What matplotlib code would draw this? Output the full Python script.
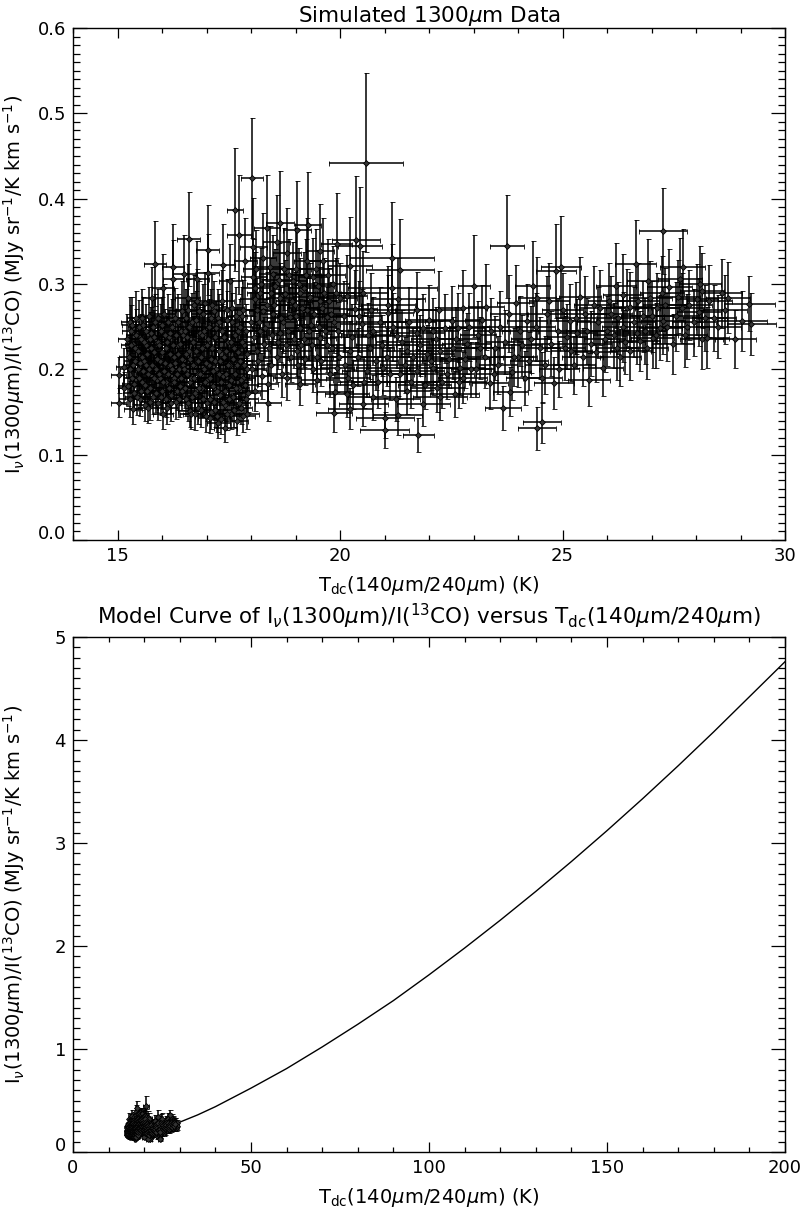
import numpy as np
import matplotlib.pyplot as plt
from matplotlib.ticker import MultipleLocator
from matplotlib.transforms import ScaledTranslation

# rows: T_dc (K), ratio, T error, ratio error
cluster_a = [
    (15.03, 0.193, 0.17, 0.021), (15.03, 0.161, 0.17, 0.017), (15.15, 0.178, 0.15, 0.019),
    (15.15, 0.203, 0.18, 0.022), (15.28, 0.255, 0.20, 0.030), (15.35, 0.230, 0.18, 0.027),
    (15.35, 0.153, 0.20, 0.017), (15.25, 0.215, 0.22, 0.025), (15.30, 0.245, 0.20, 0.030),
    (15.32, 0.190, 0.18, 0.022), (15.38, 0.172, 0.25, 0.020), (15.40, 0.225, 0.22, 0.028),
    (15.42, 0.260, 0.20, 0.032), (15.45, 0.200, 0.24, 0.024), (15.50, 0.165, 0.22, 0.020),
    (15.52, 0.235, 0.26, 0.030), (15.55, 0.185, 0.20, 0.022), (15.58, 0.252, 0.24, 0.033),
    (15.60, 0.210, 0.22, 0.026), (15.62, 0.158, 0.25, 0.019), (15.65, 0.228, 0.20, 0.029),
    (15.68, 0.195, 0.26, 0.024), (15.69, 0.155, 0.22, 0.018), (15.70, 0.262, 0.24, 0.035),
    (15.72, 0.178, 0.20, 0.021), (15.75, 0.242, 0.26, 0.031), (15.77, 0.284, 0.22, 0.036),
    (15.78, 0.205, 0.24, 0.025), (15.80, 0.168, 0.22, 0.020), (15.83, 0.220, 0.26, 0.028),
    (15.84, 0.324, 0.24, 0.050), (15.85, 0.255, 0.22, 0.033), (15.88, 0.188, 0.25, 0.023),
    (15.90, 0.232, 0.22, 0.030), (15.92, 0.160, 0.24, 0.019), (15.95, 0.210, 0.26, 0.026),
    (15.98, 0.245, 0.22, 0.032), (16.00, 0.175, 0.25, 0.021), (16.02, 0.295, 0.24, 0.040),
    (16.02, 0.148, 0.22, 0.018), (16.04, 0.198, 0.26, 0.024), (16.05, 0.265, 0.24, 0.035),
    (16.08, 0.225, 0.22, 0.028), (16.10, 0.185, 0.26, 0.022), (16.12, 0.155, 0.24, 0.019),
    (16.15, 0.238, 0.22, 0.031), (16.18, 0.205, 0.26, 0.025), (16.20, 0.170, 0.24, 0.021),
    (16.22, 0.250, 0.26, 0.033), (16.25, 0.320, 0.24, 0.050), (16.25, 0.306, 0.22, 0.045),
    (16.26, 0.215, 0.24, 0.027), (16.28, 0.190, 0.26, 0.023), (16.30, 0.260, 0.22, 0.035),
    (16.32, 0.162, 0.26, 0.020), (16.35, 0.228, 0.24, 0.029), (16.38, 0.200, 0.22, 0.025),
    (16.40, 0.180, 0.26, 0.022), (16.42, 0.245, 0.24, 0.032), (16.45, 0.212, 0.26, 0.026),
    (15.35, 0.205, 0.22, 0.025), (15.48, 0.250, 0.24, 0.031), (15.66, 0.175, 0.22, 0.021),
    (15.86, 0.200, 0.26, 0.024), (16.06, 0.240, 0.24, 0.031), (16.27, 0.185, 0.22, 0.022),
    (15.56, 0.215, 0.26, 0.026), (15.76, 0.225, 0.24, 0.028), (15.96, 0.190, 0.22, 0.023),
]
cluster_a_more = [
    (15.22, 0.235, 0.22, 0.030), (15.24, 0.180, 0.24, 0.023), (15.27, 0.200, 0.22, 0.026),
    (15.29, 0.165, 0.26, 0.021), (15.31, 0.228, 0.24, 0.030), (15.33, 0.252, 0.22, 0.033),
    (15.36, 0.183, 0.26, 0.024), (15.39, 0.210, 0.24, 0.027), (15.41, 0.240, 0.22, 0.031),
    (15.43, 0.168, 0.26, 0.022), (15.46, 0.222, 0.24, 0.029), (15.49, 0.190, 0.22, 0.025),
    (15.51, 0.208, 0.26, 0.027), (15.53, 0.175, 0.24, 0.023), (15.54, 0.260, 0.22, 0.034),
    (15.57, 0.198, 0.26, 0.026), (15.59, 0.232, 0.24, 0.030), (15.61, 0.182, 0.22, 0.024),
    (15.63, 0.245, 0.26, 0.032), (15.64, 0.205, 0.24, 0.027), (15.67, 0.218, 0.22, 0.028),
    (15.71, 0.200, 0.26, 0.026), (15.73, 0.236, 0.24, 0.031), (15.74, 0.162, 0.22, 0.021),
    (15.79, 0.250, 0.26, 0.033), (15.81, 0.190, 0.24, 0.025), (15.82, 0.238, 0.22, 0.031),
    (15.87, 0.172, 0.26, 0.022), (15.89, 0.212, 0.24, 0.028), (15.91, 0.260, 0.22, 0.034),
    (15.93, 0.195, 0.26, 0.025), (15.94, 0.228, 0.24, 0.030), (15.97, 0.168, 0.22, 0.022),
    (15.99, 0.220, 0.26, 0.029), (16.01, 0.252, 0.24, 0.033), (16.03, 0.185, 0.22, 0.024),
    (16.07, 0.208, 0.26, 0.027), (16.09, 0.165, 0.24, 0.021), (16.11, 0.232, 0.22, 0.030),
    (16.13, 0.255, 0.26, 0.033), (16.14, 0.195, 0.24, 0.025), (16.16, 0.178, 0.22, 0.023),
    (16.17, 0.218, 0.26, 0.028), (16.19, 0.242, 0.24, 0.031), (16.21, 0.160, 0.22, 0.021),
    (16.23, 0.200, 0.26, 0.026), (16.24, 0.228, 0.24, 0.030), (16.29, 0.208, 0.22, 0.027),
    (16.31, 0.240, 0.26, 0.031), (16.33, 0.175, 0.24, 0.023), (16.34, 0.195, 0.22, 0.025),
    (16.36, 0.255, 0.26, 0.033), (16.37, 0.218, 0.24, 0.028), (16.39, 0.165, 0.22, 0.021),
    (16.41, 0.230, 0.26, 0.030), (16.43, 0.190, 0.24, 0.025), (16.44, 0.268, 0.22, 0.035),
    (16.46, 0.175, 0.26, 0.023), (16.47, 0.240, 0.24, 0.031), (16.48, 0.205, 0.22, 0.027),
]

cluster_b = [
    (16.49, 0.312, 0.25, 0.045), (16.50, 0.200, 0.26, 0.025), (16.52, 0.245, 0.28, 0.032),
    (16.55, 0.165, 0.24, 0.020), (16.58, 0.270, 0.26, 0.036), (16.58, 0.284, 0.28, 0.040),
    (16.60, 0.353, 0.26, 0.055), (16.60, 0.222, 0.24, 0.028), (16.62, 0.185, 0.28, 0.023),
    (16.63, 0.151, 0.26, 0.018), (16.65, 0.148, 0.24, 0.018), (16.66, 0.190, 0.26, 0.023),
    (16.68, 0.255, 0.28, 0.034), (16.70, 0.205, 0.24, 0.025), (16.72, 0.232, 0.26, 0.030),
    (16.75, 0.172, 0.28, 0.021), (16.78, 0.280, 0.24, 0.038), (16.79, 0.306, 0.26, 0.044),
    (16.80, 0.195, 0.28, 0.024), (16.82, 0.155, 0.24, 0.019), (16.85, 0.242, 0.26, 0.031),
    (16.88, 0.215, 0.28, 0.027), (16.90, 0.178, 0.24, 0.022), (16.92, 0.265, 0.26, 0.035),
    (16.95, 0.200, 0.28, 0.025), (16.98, 0.145, 0.24, 0.018), (17.00, 0.228, 0.26, 0.029),
    (17.02, 0.188, 0.28, 0.023), (17.03, 0.340, 0.26, 0.053), (17.03, 0.313, 0.24, 0.046),
    (17.05, 0.250, 0.26, 0.033), (17.06, 0.205, 0.24, 0.025), (17.08, 0.165, 0.28, 0.020),
    (17.08, 0.143, 0.26, 0.018), (17.10, 0.212, 0.24, 0.027), (17.12, 0.275, 0.26, 0.037),
    (17.15, 0.180, 0.28, 0.022), (17.18, 0.238, 0.24, 0.031), (17.20, 0.152, 0.26, 0.019),
    (17.22, 0.200, 0.28, 0.025), (17.25, 0.260, 0.24, 0.034), (17.26, 0.137, 0.26, 0.017),
    (17.28, 0.222, 0.28, 0.028), (17.30, 0.170, 0.24, 0.021), (17.32, 0.142, 0.26, 0.018),
    (17.35, 0.245, 0.28, 0.032), (17.37, 0.322, 0.26, 0.048), (17.38, 0.192, 0.24, 0.024),
    (17.40, 0.215, 0.26, 0.027), (17.42, 0.158, 0.28, 0.019), (17.42, 0.131, 0.26, 0.016),
    (17.45, 0.270, 0.24, 0.036), (17.48, 0.232, 0.26, 0.030), (17.50, 0.182, 0.28, 0.022),
    (17.52, 0.205, 0.24, 0.025), (17.53, 0.304, 0.26, 0.043), (17.55, 0.148, 0.28, 0.018),
    (17.58, 0.255, 0.24, 0.034), (17.60, 0.168, 0.26, 0.021), (17.62, 0.225, 0.28, 0.029),
    (17.64, 0.387, 0.17, 0.072), (17.65, 0.195, 0.24, 0.024), (17.68, 0.140, 0.26, 0.017),
    (17.70, 0.245, 0.28, 0.032), (17.72, 0.178, 0.24, 0.022), (17.73, 0.358, 0.26, 0.070),
    (17.75, 0.210, 0.28, 0.026), (17.78, 0.155, 0.24, 0.019), (17.80, 0.262, 0.26, 0.035),
    (17.82, 0.190, 0.28, 0.023), (17.85, 0.228, 0.24, 0.029), (17.87, 0.327, 0.26, 0.050),
    (17.88, 0.165, 0.28, 0.020), (17.90, 0.200, 0.24, 0.025), (17.92, 0.148, 0.26, 0.018),
]
cluster_b_more = [
    (16.51, 0.178, 0.26, 0.023), (16.53, 0.218, 0.24, 0.028), (16.54, 0.260, 0.28, 0.034),
    (16.56, 0.195, 0.26, 0.025), (16.57, 0.238, 0.24, 0.031), (16.59, 0.160, 0.28, 0.021),
    (16.61, 0.250, 0.26, 0.033), (16.64, 0.212, 0.24, 0.028), (16.67, 0.168, 0.28, 0.022),
    (16.69, 0.232, 0.26, 0.030), (16.71, 0.275, 0.24, 0.036), (16.73, 0.190, 0.28, 0.025),
    (16.74, 0.148, 0.26, 0.019), (16.76, 0.222, 0.24, 0.029), (16.77, 0.258, 0.28, 0.034),
    (16.81, 0.210, 0.26, 0.027), (16.83, 0.268, 0.24, 0.035), (16.84, 0.178, 0.28, 0.023),
    (16.86, 0.195, 0.26, 0.025), (16.87, 0.152, 0.24, 0.020), (16.89, 0.240, 0.28, 0.031),
    (16.91, 0.225, 0.26, 0.029), (16.93, 0.165, 0.24, 0.021), (16.94, 0.245, 0.28, 0.032),
    (16.96, 0.185, 0.26, 0.024), (16.97, 0.278, 0.24, 0.036), (16.99, 0.208, 0.28, 0.027),
    (17.01, 0.160, 0.26, 0.021), (17.04, 0.235, 0.24, 0.031), (17.07, 0.190, 0.28, 0.025),
    (17.09, 0.260, 0.26, 0.034), (17.11, 0.150, 0.24, 0.020), (17.13, 0.225, 0.28, 0.029),
    (17.14, 0.198, 0.26, 0.026), (17.16, 0.268, 0.24, 0.035), (17.17, 0.162, 0.28, 0.021),
    (17.19, 0.210, 0.26, 0.027), (17.21, 0.248, 0.24, 0.032), (17.23, 0.175, 0.28, 0.023),
    (17.24, 0.145, 0.26, 0.019), (17.27, 0.195, 0.24, 0.025), (17.29, 0.255, 0.28, 0.033),
    (17.31, 0.210, 0.26, 0.027), (17.33, 0.185, 0.24, 0.024), (17.34, 0.280, 0.28, 0.036),
    (17.36, 0.162, 0.26, 0.021), (17.39, 0.238, 0.24, 0.031), (17.41, 0.175, 0.28, 0.023),
    (17.43, 0.222, 0.26, 0.029), (17.44, 0.195, 0.24, 0.025), (17.46, 0.148, 0.28, 0.019),
    (17.47, 0.258, 0.26, 0.034), (17.49, 0.205, 0.24, 0.027), (17.51, 0.165, 0.28, 0.021),
    (17.54, 0.232, 0.26, 0.030), (17.56, 0.188, 0.24, 0.024), (17.57, 0.272, 0.28, 0.035),
    (17.59, 0.212, 0.26, 0.028), (17.61, 0.152, 0.24, 0.020), (17.63, 0.240, 0.28, 0.031),
    (17.66, 0.178, 0.26, 0.023), (17.67, 0.262, 0.24, 0.034), (17.69, 0.205, 0.28, 0.027),
    (17.71, 0.220, 0.26, 0.029), (17.74, 0.160, 0.24, 0.021), (17.76, 0.250, 0.28, 0.033),
    (17.77, 0.188, 0.26, 0.024), (17.79, 0.232, 0.24, 0.030), (17.81, 0.145, 0.28, 0.019),
    (17.83, 0.270, 0.26, 0.035), (17.84, 0.205, 0.24, 0.027), (17.86, 0.182, 0.28, 0.024),
    (17.89, 0.245, 0.26, 0.032), (17.91, 0.218, 0.24, 0.028), (17.93, 0.172, 0.28, 0.022),
]

cluster_c = [
    (18.02, 0.424, 0.24, 0.070), (18.05, 0.343, 0.30, 0.058), (18.36, 0.366, 0.30, 0.062),
    (18.65, 0.372, 0.32, 0.060), (19.03, 0.363, 0.32, 0.058), (19.28, 0.369, 0.30, 0.062),
    (18.58, 0.349, 0.30, 0.055), (19.55, 0.339, 0.32, 0.055), (19.93, 0.347, 0.35, 0.060),
    (18.27, 0.331, 0.30, 0.052), (18.81, 0.336, 0.32, 0.053), (19.26, 0.327, 0.30, 0.050),
    (19.62, 0.327, 0.34, 0.050), (18.05, 0.308, 0.28, 0.045), (18.49, 0.312, 0.30, 0.046),
    (18.94, 0.304, 0.32, 0.045), (19.39, 0.308, 0.34, 0.046), (19.84, 0.300, 0.36, 0.044),
    (18.20, 0.289, 0.30, 0.042), (18.65, 0.284, 0.32, 0.041), (19.10, 0.289, 0.34, 0.042),
    (19.55, 0.280, 0.36, 0.040), (20.00, 0.284, 0.38, 0.041), (18.13, 0.269, 0.30, 0.038),
    (18.49, 0.265, 0.32, 0.037), (18.88, 0.261, 0.34, 0.036), (19.26, 0.269, 0.36, 0.038),
    (19.71, 0.261, 0.38, 0.036), (18.20, 0.245, 0.30, 0.034), (18.65, 0.242, 0.32, 0.033),
    (19.10, 0.249, 0.34, 0.034), (19.55, 0.237, 0.36, 0.032), (18.13, 0.222, 0.30, 0.030),
    (18.58, 0.214, 0.32, 0.029), (19.03, 0.222, 0.34, 0.030), (19.48, 0.214, 0.36, 0.029),
    (18.38, 0.183, 0.22, 0.025), (18.09, 0.175, 0.30, 0.024), (18.81, 0.190, 0.32, 0.026),
    (19.10, 0.183, 0.34, 0.025), (19.48, 0.187, 0.36, 0.026), (19.89, 0.173, 0.40, 0.024),
    (19.93, 0.202, 0.38, 0.028), (18.38, 0.161, 0.30, 0.022), (18.00, 0.255, 0.28, 0.036),
    (18.10, 0.295, 0.30, 0.042), (18.30, 0.230, 0.30, 0.031), (18.35, 0.275, 0.30, 0.039),
    (18.42, 0.320, 0.32, 0.048), (18.45, 0.205, 0.32, 0.028), (18.55, 0.298, 0.30, 0.043),
    (18.72, 0.255, 0.32, 0.036), (18.75, 0.318, 0.34, 0.048), (18.78, 0.228, 0.32, 0.031),
    (18.98, 0.275, 0.34, 0.039), (19.00, 0.318, 0.34, 0.048), (19.05, 0.205, 0.34, 0.028),
    (19.18, 0.235, 0.36, 0.032), (19.20, 0.295, 0.36, 0.042), (19.35, 0.252, 0.36, 0.035),
    (19.40, 0.200, 0.36, 0.027), (19.45, 0.318, 0.36, 0.047), (19.65, 0.290, 0.38, 0.041),
    (19.70, 0.228, 0.38, 0.031), (19.78, 0.195, 0.38, 0.027), (19.80, 0.265, 0.40, 0.037),
    (19.95, 0.245, 0.40, 0.034),
]
cluster_c_more = [
    (18.03, 0.200, 0.30, 0.028), (18.06, 0.238, 0.30, 0.033), (18.08, 0.282, 0.32, 0.039),
    (18.12, 0.318, 0.30, 0.045), (18.15, 0.210, 0.32, 0.029), (18.17, 0.255, 0.30, 0.036),
    (18.22, 0.300, 0.32, 0.042), (18.25, 0.192, 0.30, 0.027), (18.28, 0.268, 0.32, 0.038),
    (18.32, 0.248, 0.30, 0.035), (18.40, 0.225, 0.32, 0.032), (18.44, 0.290, 0.34, 0.041),
    (18.47, 0.240, 0.32, 0.034), (18.52, 0.275, 0.34, 0.039), (18.60, 0.232, 0.32, 0.032),
    (18.62, 0.305, 0.34, 0.043), (18.68, 0.260, 0.32, 0.036), (18.70, 0.195, 0.34, 0.027),
    (18.76, 0.288, 0.32, 0.040), (18.84, 0.245, 0.34, 0.034), (18.86, 0.310, 0.32, 0.043),
    (18.90, 0.215, 0.34, 0.030), (18.92, 0.280, 0.36, 0.039), (18.96, 0.235, 0.34, 0.033),
    (19.02, 0.262, 0.36, 0.037), (19.08, 0.300, 0.34, 0.042), (19.12, 0.228, 0.36, 0.032),
    (19.15, 0.272, 0.34, 0.038), (19.22, 0.212, 0.36, 0.030), (19.24, 0.310, 0.34, 0.043),
    (19.30, 0.245, 0.36, 0.034), (19.33, 0.285, 0.38, 0.040), (19.37, 0.228, 0.36, 0.032),
    (19.42, 0.265, 0.38, 0.037), (19.50, 0.298, 0.36, 0.042), (19.52, 0.250, 0.38, 0.035),
    (19.58, 0.210, 0.36, 0.029), (19.60, 0.272, 0.38, 0.038), (19.67, 0.245, 0.40, 0.034),
    (19.74, 0.310, 0.38, 0.043), (19.76, 0.280, 0.40, 0.039), (19.82, 0.225, 0.38, 0.032),
    (19.86, 0.255, 0.40, 0.036), (19.90, 0.290, 0.42, 0.041), (19.97, 0.215, 0.40, 0.030),
]

cluster_d = [
    (20.58, 0.442, 0.83, 0.105), (20.36, 0.352, 0.54, 0.075), (20.45, 0.344, 0.50, 0.070),
    (21.17, 0.331, 0.94, 0.065), (21.35, 0.316, 0.76, 0.060), (20.22, 0.321, 0.50, 0.058),
    (21.17, 0.295, 1.00, 0.052), (20.52, 0.289, 0.55, 0.050), (21.30, 0.282, 0.60, 0.048),
    (21.73, 0.269, 0.50, 0.045), (22.22, 0.270, 0.55, 0.045), (21.08, 0.275, 0.60, 0.046),
    (21.08, 0.266, 0.55, 0.044), (20.34, 0.271, 0.50, 0.045), (20.16, 0.286, 0.45, 0.048),
    (20.74, 0.245, 0.55, 0.040), (20.50, 0.253, 0.50, 0.041), (21.73, 0.243, 0.60, 0.039),
    (21.28, 0.239, 0.55, 0.038), (21.87, 0.248, 0.60, 0.040), (22.10, 0.245, 0.55, 0.039),
    (22.52, 0.257, 0.60, 0.041), (22.76, 0.272, 0.55, 0.044), (22.65, 0.249, 0.60, 0.040),
    (20.22, 0.222, 0.50, 0.035), (20.67, 0.225, 0.55, 0.036), (21.06, 0.214, 0.60, 0.034),
    (21.50, 0.222, 0.55, 0.035), (21.96, 0.218, 0.60, 0.034), (22.25, 0.222, 0.55, 0.035),
    (22.54, 0.225, 0.60, 0.036), (22.85, 0.230, 0.55, 0.036), (20.18, 0.190, 0.50, 0.030),
    (20.60, 0.198, 0.55, 0.031), (20.97, 0.202, 0.60, 0.032), (21.35, 0.195, 0.55, 0.030),
    (21.73, 0.198, 0.60, 0.031), (22.09, 0.202, 0.55, 0.032), (22.40, 0.195, 0.60, 0.030),
    (22.70, 0.202, 0.55, 0.032), (20.16, 0.171, 0.50, 0.027), (20.52, 0.159, 0.55, 0.025),
    (20.74, 0.167, 0.55, 0.026), (21.01, 0.143, 0.65, 0.023), (21.30, 0.146, 0.55, 0.023),
    (21.76, 0.123, 0.35, 0.020), (21.87, 0.159, 0.60, 0.025), (20.22, 0.154, 0.50, 0.024),
    (21.50, 0.175, 0.55, 0.027), (22.25, 0.167, 0.60, 0.026), (22.58, 0.171, 0.55, 0.027),
    (22.18, 0.178, 0.60, 0.028), (19.87, 0.149, 0.40, 0.023), (21.00, 0.129, 0.55, 0.021),
    (22.76, 0.190, 0.55, 0.030),
]
cluster_d_more = [
    (20.10, 0.262, 0.50, 0.042), (20.12, 0.205, 0.55, 0.033), (20.28, 0.238, 0.50, 0.038),
    (20.30, 0.182, 0.55, 0.029), (20.40, 0.215, 0.60, 0.034), (20.42, 0.262, 0.50, 0.042),
    (20.55, 0.185, 0.55, 0.030), (20.62, 0.240, 0.60, 0.038), (20.70, 0.270, 0.55, 0.043),
    (20.80, 0.210, 0.50, 0.034), (20.85, 0.185, 0.60, 0.030), (20.90, 0.255, 0.55, 0.041),
    (20.95, 0.228, 0.60, 0.036), (21.12, 0.195, 0.55, 0.031), (21.20, 0.250, 0.60, 0.040),
    (21.25, 0.165, 0.55, 0.026), (21.40, 0.232, 0.60, 0.037), (21.45, 0.205, 0.55, 0.033),
    (21.55, 0.255, 0.60, 0.041), (21.60, 0.185, 0.55, 0.030), (21.65, 0.215, 0.60, 0.034),
    (21.80, 0.228, 0.55, 0.036), (21.90, 0.182, 0.60, 0.029), (22.00, 0.258, 0.55, 0.041),
    (22.05, 0.210, 0.60, 0.034), (22.15, 0.235, 0.55, 0.038), (22.30, 0.185, 0.60, 0.030),
    (22.35, 0.248, 0.55, 0.040), (22.45, 0.212, 0.60, 0.034), (22.60, 0.235, 0.55, 0.038),
    (22.68, 0.185, 0.60, 0.030), (22.80, 0.212, 0.55, 0.034), (22.90, 0.250, 0.45, 0.040),
    (22.95, 0.200, 0.45, 0.032),
]

cluster_e = [
    (23.01, 0.298, 0.36, 0.060), (23.28, 0.273, 0.40, 0.050), (23.75, 0.344, 0.39, 0.060),
    (24.33, 0.298, 0.40, 0.052), (24.43, 0.284, 0.42, 0.048), (24.85, 0.315, 0.45, 0.055),
    (24.96, 0.320, 0.45, 0.060), (26.20, 0.298, 0.45, 0.050), (26.36, 0.287, 0.45, 0.048),
    (25.71, 0.275, 0.45, 0.046), (23.80, 0.265, 0.42, 0.045), (23.66, 0.155, 0.40, 0.026),
    (23.83, 0.174, 0.40, 0.029), (24.54, 0.138, 0.42, 0.024), (24.43, 0.131, 0.42, 0.025),
    (25.60, 0.188, 0.47, 0.031), (25.91, 0.202, 0.45, 0.033), (24.81, 0.184, 0.45, 0.031),
    (23.37, 0.184, 0.40, 0.031), (23.87, 0.197, 0.42, 0.033), (24.92, 0.200, 0.45, 0.033),
    (23.26, 0.214, 0.40, 0.036), (23.48, 0.225, 0.42, 0.038), (24.05, 0.245, 0.42, 0.041),
    (24.20, 0.257, 0.45, 0.043), (25.17, 0.257, 0.45, 0.043), (25.33, 0.242, 0.45, 0.040),
    (25.50, 0.265, 0.47, 0.044), (26.00, 0.245, 0.47, 0.041), (26.22, 0.225, 0.47, 0.037),
    (26.45, 0.272, 0.47, 0.045), (27.26, 0.362, 0.54, 0.050), (26.65, 0.323, 0.46, 0.052),
    (26.92, 0.303, 0.48, 0.050), (27.70, 0.320, 0.50, 0.045), (27.64, 0.306, 0.50, 0.048),
    (28.09, 0.300, 0.48, 0.045), (28.13, 0.292, 0.50, 0.044), (28.58, 0.289, 0.45, 0.040),
    (28.72, 0.284, 0.50, 0.042), (29.20, 0.277, 0.58, 0.032), (29.03, 0.257, 0.56, 0.035),
    (29.24, 0.253, 0.55, 0.036), (28.88, 0.236, 0.46, 0.034), (28.25, 0.237, 0.50, 0.036),
    (28.13, 0.235, 0.48, 0.035), (28.07, 0.267, 0.50, 0.040), (28.02, 0.282, 0.48, 0.042),
    (27.69, 0.272, 0.50, 0.041), (27.80, 0.250, 0.50, 0.038), (27.48, 0.230, 0.48, 0.035),
    (26.97, 0.284, 0.48, 0.043), (26.52, 0.273, 0.46, 0.041), (27.24, 0.289, 0.50, 0.044),
    (27.26, 0.257, 0.50, 0.039), (27.03, 0.237, 0.48, 0.036), (26.74, 0.233, 0.46, 0.035),
    (26.52, 0.222, 0.46, 0.034), (26.30, 0.214, 0.46, 0.033), (26.67, 0.243, 0.48, 0.037),
    (27.12, 0.272, 0.50, 0.041), (27.40, 0.296, 0.50, 0.045), (27.20, 0.249, 0.48, 0.038),
    (23.10, 0.240, 0.40, 0.040), (23.55, 0.205, 0.42, 0.034), (23.60, 0.250, 0.42, 0.042),
    (24.00, 0.215, 0.42, 0.036), (24.15, 0.190, 0.42, 0.032), (24.30, 0.235, 0.45, 0.039),
    (24.60, 0.205, 0.45, 0.034), (24.65, 0.265, 0.45, 0.044), (24.75, 0.230, 0.45, 0.038),
    (25.05, 0.225, 0.45, 0.037), (25.25, 0.205, 0.47, 0.034), (25.40, 0.285, 0.47, 0.047),
    (25.65, 0.230, 0.47, 0.038), (25.80, 0.255, 0.47, 0.042), (26.10, 0.265, 0.47, 0.044),
    (26.35, 0.250, 0.46, 0.041), (26.80, 0.262, 0.48, 0.042), (27.55, 0.262, 0.50, 0.040),
    (27.95, 0.255, 0.50, 0.039), (28.40, 0.260, 0.50, 0.039),
]
cluster_e_more = [
    (23.05, 0.200, 0.40, 0.032), (23.15, 0.225, 0.42, 0.036), (23.20, 0.258, 0.40, 0.041),
    (23.40, 0.245, 0.42, 0.039), (23.45, 0.195, 0.40, 0.031), (23.70, 0.232, 0.42, 0.037),
    (23.90, 0.215, 0.44, 0.034), (23.95, 0.278, 0.42, 0.044), (24.10, 0.228, 0.44, 0.036),
    (24.25, 0.210, 0.42, 0.034), (24.40, 0.250, 0.44, 0.040), (24.50, 0.225, 0.45, 0.036),
    (24.55, 0.190, 0.44, 0.030), (24.70, 0.280, 0.45, 0.045), (24.90, 0.245, 0.44, 0.039),
    (25.00, 0.270, 0.46, 0.043), (25.10, 0.238, 0.45, 0.038), (25.20, 0.222, 0.46, 0.036),
    (25.30, 0.260, 0.45, 0.042), (25.45, 0.215, 0.46, 0.034), (25.55, 0.245, 0.47, 0.039),
    (25.75, 0.220, 0.46, 0.035), (25.85, 0.272, 0.47, 0.044), (25.95, 0.235, 0.46, 0.038),
    (26.05, 0.280, 0.47, 0.045), (26.15, 0.240, 0.46, 0.038), (26.25, 0.260, 0.47, 0.042),
    (26.40, 0.232, 0.46, 0.037), (26.60, 0.255, 0.48, 0.041), (26.70, 0.280, 0.47, 0.045),
    (26.85, 0.245, 0.48, 0.039), (26.90, 0.225, 0.47, 0.036), (27.00, 0.262, 0.48, 0.042),
    (27.10, 0.240, 0.49, 0.038), (27.30, 0.275, 0.48, 0.044), (27.35, 0.250, 0.49, 0.040),
    (27.60, 0.285, 0.50, 0.043), (27.75, 0.240, 0.49, 0.037), (27.85, 0.275, 0.50, 0.041),
    (28.20, 0.260, 0.50, 0.039), (28.30, 0.280, 0.50, 0.042), (28.50, 0.250, 0.50, 0.037),
    (28.65, 0.270, 0.50, 0.040),
]

# model curve
model_temp = [30, 35, 40, 45, 50, 60, 70, 80, 90, 100, 110, 120, 130, 140, 150, 160, 170, 180, 190, 200]
model_ratio = [0.29, 0.36, 0.44, 0.53, 0.62, 0.81, 1.02, 1.24, 1.47, 1.72, 1.98, 2.25, 2.53,
               2.82, 3.12, 3.43, 3.75, 4.08, 4.42, 4.76]

data = np.array(cluster_a + cluster_a_more + cluster_b + cluster_b_more + cluster_c
                + cluster_c_more + cluster_d + cluster_d_more + cluster_e + cluster_e_more)
temp, ratio, temp_err, ratio_err = data.T

ylab = r'I$_\nu$(1300$\mu$m)/I($^{13}$CO) (MJy sr$^{-1}$/K km s$^{-1}$)'
xlab = r'T$_{\rm dc}$(140$\mu$m/240$\mu$m) (K)'

plt.rcParams['font.family'] = ['DejaVu Sans']
plt.rcParams['mathtext.fontset'] = 'dejavusans'

fig = plt.figure(figsize=(8.01, 12.09), dpi=100)
ax1 = fig.add_axes([73 / 801, 1 - 540 / 1209, 712 / 801, 512 / 1209])
ax2 = fig.add_axes([73 / 801, 1 - 1152 / 1209, 712 / 801, 515 / 1209])


def draw_points(ax):
    ax.errorbar(temp, ratio, xerr=temp_err, yerr=ratio_err, fmt='D', ms=3,
                mfc='#333333', mec='black', mew=0.6, ecolor='black',
                elinewidth=1.1, capsize=1.8, capthick=1.0)


def style(ax):
    for s in ax.spines.values():
        s.set_linewidth(1.0)
    ax.tick_params(which='both', direction='in', top=True, right=True,
                   labelsize=13, width=0.9)
    ax.tick_params(axis='x', which='major', length=7, pad=5)
    ax.tick_params(axis='x', which='minor', length=3.5)
    ax.tick_params(axis='y', which='major', length=10, pad=5)
    ax.tick_params(axis='y', which='minor', length=5)
    # IDL nudges the lowest y label up off the corner
    lbl = ax.get_yticklabels()[0]
    lbl.set_transform(lbl.get_transform() + ScaledTranslation(0, 8 / 100, fig.dpi_scale_trans))


# top panel
draw_points(ax1)
ax1.set_xlim(14, 30)
ax1.set_ylim(0, 0.6)
ax1.xaxis.set_major_locator(MultipleLocator(5))
ax1.xaxis.set_minor_locator(MultipleLocator(1))
ax1.set_yticks(np.arange(0, 0.61, 0.1))
ax1.set_yticklabels(['%.1f' % v for v in np.arange(0, 0.61, 0.1)])
ax1.yaxis.set_minor_locator(MultipleLocator(0.01))
style(ax1)
ax1.set_title(r'Simulated 1300$\mu$m Data', fontsize=15.5, pad=4)
ax1.set_xlabel(xlab, fontsize=14)
ax1.set_ylabel(ylab, fontsize=14)
ax1.xaxis.set_label_coords(0.5, -0.066)
ax1.yaxis.set_label_coords(-0.065, 0.5)

# bottom panel
draw_points(ax2)
ax2.plot(model_temp, model_ratio, color='black', lw=1.0)
ax2.set_xlim(0, 200)
ax2.set_ylim(0, 5)
ax2.xaxis.set_major_locator(MultipleLocator(50))
ax2.xaxis.set_minor_locator(MultipleLocator(10))
ax2.set_yticks(range(6))
ax2.set_yticklabels([str(v) for v in range(6)])
ax2.yaxis.set_minor_locator(MultipleLocator(0.1))
style(ax2)
ax2.set_title(r'Model Curve of I$_\nu$(1300$\mu$m)/I($^{13}$CO) versus T$_{\rm dc}$(140$\mu$m/240$\mu$m)',
              fontsize=15.5, pad=9)
ax2.set_xlabel(xlab, fontsize=14)
ax2.set_ylabel(ylab, fontsize=14)
ax2.xaxis.set_label_coords(0.5, -0.066)
ax2.yaxis.set_label_coords(-0.065, 0.5)

fig.savefig('out.png', dpi=100)
